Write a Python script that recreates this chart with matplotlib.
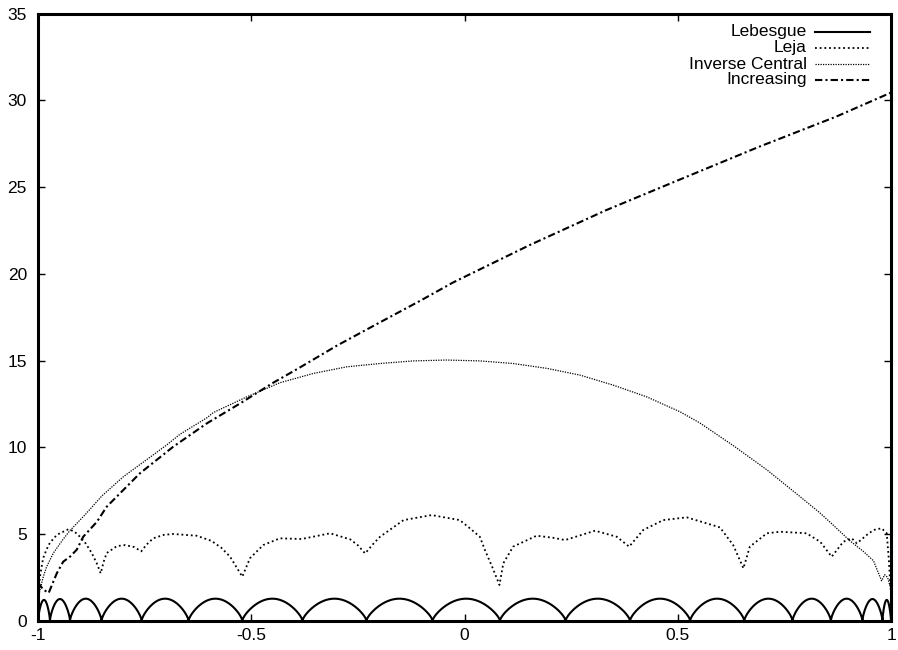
import numpy as np
import matplotlib
matplotlib.use("Agg")
import matplotlib.pyplot as plt

plt.rcParams['font.family'] = ['Liberation Sans', 'DejaVu Sans']

# ---- data ----
# Lebesgue: arch end points (nodes) and arch heights
leb_nodes = [-1.0, -0.972, -0.925, -0.851, -0.757, -0.647, -0.521, -0.380, -0.230, -0.075,
             0.083, 0.237, 0.388, 0.529, 0.656, 0.769, 0.859, 0.933, 0.980, 1.0]
leb_peaks = [1.20, 1.25, 1.27, 1.27, 1.27, 1.27, 1.27, 1.27, 1.27, 1.27,
             1.27, 1.27, 1.27, 1.27, 1.27, 1.27, 1.27, 1.25, 1.20]

leja_x = [-1.0, -0.995, -0.988, -0.980, -0.972, -0.956, -0.948, -0.941, -0.929, -0.915,
          -0.902, -0.888, -0.874, -0.862, -0.853, -0.846, -0.839, -0.815, -0.796, -0.775,
          -0.758, -0.745, -0.730, -0.705, -0.683, -0.628, -0.593, -0.570, -0.550, -0.535,
          -0.521, -0.503, -0.472, -0.433, -0.382, -0.315, -0.268, -0.250, -0.233, -0.215,
          -0.198, -0.143, -0.077, -0.011, 0.013, 0.036, 0.048, 0.065, 0.082, 0.091,
          0.114, 0.169, 0.208, 0.236, 0.306, 0.357, 0.386, 0.419, 0.466, 0.521,
          0.599, 0.630, 0.654, 0.669, 0.709, 0.740, 0.802, 0.834, 0.861, 0.873,
          0.888, 0.908, 0.920, 0.943, 0.959, 0.978, 0.990, 0.995, 0.999]
leja_y = [1.5, 2.6, 3.6, 4.1, 4.5, 4.94, 5.05, 5.13, 5.27, 5.15,
          4.85, 4.45, 3.9, 3.3, 2.73, 3.4, 3.9, 4.3, 4.36, 4.25,
          4.0, 4.4, 4.75, 4.95, 5.0, 4.9, 4.6, 4.2, 3.7, 3.1,
          2.54, 3.6, 4.36, 4.75, 4.71, 5.04, 4.69, 4.35, 3.88, 4.4,
          4.84, 5.8, 6.09, 5.8, 5.32, 4.84, 4.07, 3.1, 2.06, 3.31,
          4.27, 4.9, 4.78, 4.65, 5.19, 4.84, 4.27, 5.23, 5.8, 5.96,
          5.38, 4.36, 3.02, 4.27, 5.04, 5.13, 5.04, 4.55, 3.69, 4.07,
          4.55, 4.75, 4.46, 4.94, 5.23, 5.33, 5.04, 3.5, 1.8]

ic_x = [-1.0, -0.995, -0.988, -0.980, -0.964, -0.941, -0.925, -0.89, -0.85, -0.80,
        -0.75, -0.70, -0.667, -0.604, -0.589, -0.511, -0.433, -0.354, -0.276, -0.198,
        -0.12, -0.042, 0.036, 0.114, 0.193, 0.271, 0.349, 0.427, 0.505, 0.552,
        0.630, 0.709, 0.787, 0.834, 0.865, 0.904, 0.935, 0.959, 0.978, 0.985,
        0.992, 1.0]
ic_y = [1.2, 1.8, 2.5, 3.1, 3.9, 4.7, 5.2, 6.1, 7.2, 8.3,
        9.2, 10.1, 10.75, 11.7, 12.0, 12.9, 13.72, 14.26, 14.64, 14.83,
        14.98, 15.03, 14.98, 14.83, 14.55, 14.16, 13.58, 12.91, 12.05, 11.4,
        10.1, 8.7, 7.15, 6.2, 5.5, 4.6, 4.0, 3.45, 2.3, 2.65,
        2.5, 1.8]

inc_x = [-1.0, -0.988, -0.975, -0.956, -0.941, -0.925, -0.909, -0.894, -0.862, -0.839,
         -0.761, -0.683, -0.604, -0.526, -0.45, -0.386, -0.3, -0.206, -0.1, -0.027,
         0.152, 0.332, 0.511, 0.690, 0.870, 1.0]
inc_y = [2.2, 1.8, 1.6, 2.73, 3.4, 3.69, 4.1, 4.84, 5.7, 6.57,
         8.5, 10.03, 11.38, 12.53, 13.7, 14.6, 15.85, 17.1, 18.5, 19.5,
         21.65, 23.67, 25.5, 27.32, 29.05, 30.45]

series_labels = ['Lebesgue', 'Leja', 'Inverse Central', 'Increasing']
x_ticks = [-1, -0.5, 0, 0.5, 1]
x_ticklabels = ['-1', '-0.5', '0', '0.5', '1']
y_ticks = [0, 5, 10, 15, 20, 25, 30, 35]

# ---- build Lebesgue arches from nodes/peaks ----
leb_x, leb_y = [], []
for a, b, h in zip(leb_nodes[:-1], leb_nodes[1:], leb_peaks):
    t = np.linspace(0, 1, 80)
    leb_x.append(a + (b - a) * t)
    leb_y.append(h * np.sin(np.pi * t) ** 0.7)
leb_x = np.concatenate(leb_x)
leb_y = np.concatenate(leb_y)

fig = plt.figure(figsize=(8.98, 6.5), dpi=100)
ax = fig.add_axes([38 / 898, 29.3 / 650, 853 / 898, 607 / 650])

styles = [
    dict(color='black', lw=1.5, ls='-'),
    dict(color='black', lw=1.3, ls=(0, (1, 1.6))),
    dict(color='black', lw=0.9, ls=(0, (1, 1))),
    dict(color='black', lw=1.5, ls=(0, (3.5, 1.5, 1, 1.5))),
]

ax.plot(leb_x, leb_y, **styles[0])
ax.plot(leja_x, leja_y, **styles[1])
ax.plot(ic_x, ic_y, **styles[2])
ax.plot(inc_x, inc_y, **styles[3])

ax.set_xlim(-1, 1)
ax.set_ylim(0, 35)
ax.set_xticks(x_ticks)
ax.set_xticklabels(x_ticklabels)
ax.set_yticks(y_ticks)
ax.tick_params(direction='in', length=5, width=1, top=True, right=True,
               labelsize=12.5, colors='black')
ax.tick_params(axis='x', pad=5)
ax.tick_params(axis='y', pad=8)
for sp in ax.spines.values():
    sp.set_linewidth(2.2)

# gnuplot-style legend: right-aligned text, sample line on the right
ys = [0.970, 0.9435, 0.917, 0.891]
for lab, st, yy in zip(series_labels, styles, ys):
    ax.text(0.9015, yy, lab, transform=ax.transAxes, ha='right', va='center',
            fontsize=12.5)
    ax.plot([0.911, 0.975], [yy, yy], transform=ax.transAxes, clip_on=False, **st)

fig.savefig('out.png', dpi=100)
